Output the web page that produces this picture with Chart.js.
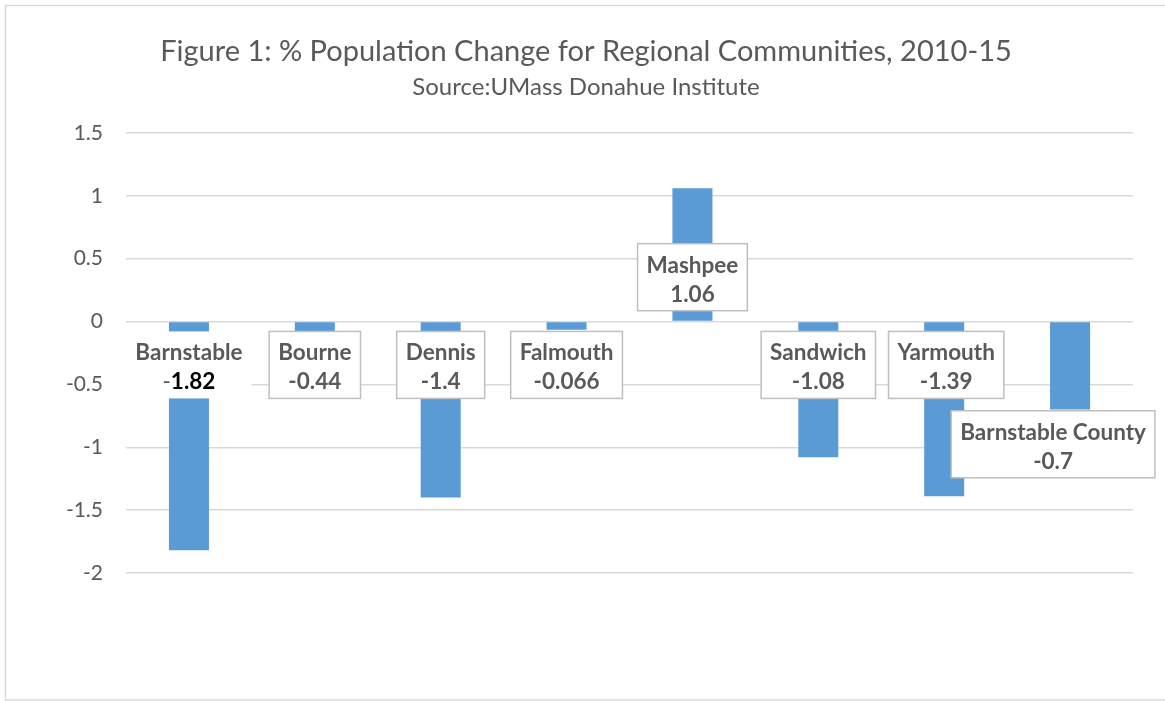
<!DOCTYPE html>
<html>
<head>
<meta charset="utf-8">
<script src="https://cdn.jsdelivr.net/npm/chart.js@4/dist/chart.umd.min.js"></script>
<style>
  html, body { margin: 0; padding: 0; background: #fff; }
  #wrap { width: 1165px; height: 701px; position: relative; }
</style>
</head>
<body>
<div id="wrap"><canvas id="popChart" width="1165" height="701"></canvas></div>
<script>
// data
const communities = ['Barnstable', 'Bourne', 'Dennis', 'Falmouth', 'Mashpee', 'Sandwich', 'Yarmouth', 'Barnstable County'];
const pctChange = [-1.82, -0.44, -1.4, -0.066, 1.06, -1.08, -1.39, -0.7];
const valueText = ['-1.82', '-0.44', '-1.4', '-0.066', '1.06', '-1.08', '-1.39', '-0.7'];
const yTicks = [1.5, 1, 0.5, 0, -0.5, -1, -1.5, -2];

const titleText = 'Figure 1: % Population Change for Regional Communities, 2010-15';
const subtitleText = 'Source:UMass Donahue Institute';

// where each data label box sits (value on y axis, px nudge on x)
const labelAt = [-0.345, -0.345, -0.345, -0.345, 0.353, -0.345, -0.345, -0.976];
const labelDx = [0, 0, 0, 0, 0, 0, 2, -17];

const grey = '#595959';
const fontFam = 'Lato, "Open Sans", sans-serif';
const lblSize = 22.5;

//frame around the chart + title
const framePlugin = {
  id: 'frame',
  beforeDraw(chart) {
    const ctx = chart.ctx;
    ctx.save();
    ctx.strokeStyle = '#d9d9d9';
    ctx.lineWidth = 1.5;
    ctx.strokeRect(5.5, 5.5, 1180, 694.5);

    ctx.fillStyle = grey;
    ctx.textAlign = 'center';
    ctx.textBaseline = 'alphabetic';
    ctx.font = '29px ' + fontFam;
    ctx.fillText(titleText, 586, 61);
    ctx.font = '24px ' + fontFam;
    ctx.fillText(subtitleText, 586, 95);
    ctx.restore();
  }
};

//boxed data labels "name / value"
const labelPlugin = {
  id: 'boxLabels',
  afterDatasetsDraw(chart) {
    const ctx = chart.ctx;
    const meta = chart.getDatasetMeta(0);
    const yScale = chart.scales.y;
    const bold = 'bold ' + lblSize + 'px ' + fontFam;
    const plain = lblSize + 'px ' + fontFam;
    ctx.save();
    meta.data.forEach((bar, i) => {
      ctx.font = bold;
      const cx = bar.x + labelDx[i];
      const cy = yScale.getPixelForValue(labelAt[i]);
      const w = Math.max(ctx.measureText(communities[i]).width, ctx.measureText(valueText[i]).width) + 18;
      const h = 67;
      ctx.fillStyle = '#fff';
      ctx.fillRect(cx - w / 2, cy - h / 2, w, h);
      if (i !== 0) {
        ctx.strokeStyle = '#bfbfbf';
        ctx.lineWidth = 1.5;
        ctx.strokeRect(cx - w / 2, cy - h / 2, w, h);
      }
      ctx.fillStyle = grey;
      ctx.textAlign = 'center';
      ctx.textBaseline = 'alphabetic';
      ctx.fillText(communities[i], cx, cy - 4.5);
      if (i === 0) {
        // the first one has a grey minus and a black number
        const num = valueText[i].slice(1);
        ctx.font = plain;
        const mw = ctx.measureText('-').width;
        ctx.font = bold;
        const nw = ctx.measureText(num).width;
        const x0 = cx - (mw + nw) / 2;
        ctx.textAlign = 'left';
        ctx.font = plain;
        ctx.fillText('-', x0, cy + 24.5);
        ctx.font = bold;
        ctx.fillStyle = '#000';
        ctx.fillText(num, x0 + mw, cy + 24.5);
      } else {
        ctx.fillText(valueText[i], cx, cy + 24.5);
      }
    });
    ctx.restore();
  }
};

new Chart(document.getElementById('popChart'), {
  type: 'bar',
  data: {
    labels: communities,
    datasets: [{
      data: pctChange,
      backgroundColor: '#5b9bd5',
      categoryPercentage: 1,
      barPercentage: 0.318
    }]
  },
  options: {
    responsive: false,
    animation: false,
    layout: {
      padding: { top: 133, bottom: 128, left: 10, right: 32 }
    },
    plugins: {
      legend: { display: false },
      tooltip: { enabled: false },
      title: { display: false }
    },
    scales: {
      x: {
        display: false
      },
      y: {
        min: -2,
        max: 1.5,
        afterFit: (scale) => { scale.width = 116; },
        afterBuildTicks: (scale) => { scale.ticks = yTicks.map(v => ({ value: v })); },
        ticks: {
          color: grey,
          padding: 23,
          font: { family: fontFam, size: 21 },
          callback: (v) => String(v)
        },
        grid: {
          color: '#d9d9d9',
          lineWidth: 1.5,
          drawTicks: false
        },
        border: { display: false }
      }
    }
  },
  plugins: [framePlugin, labelPlugin]
});
</script>
</body>
</html>
